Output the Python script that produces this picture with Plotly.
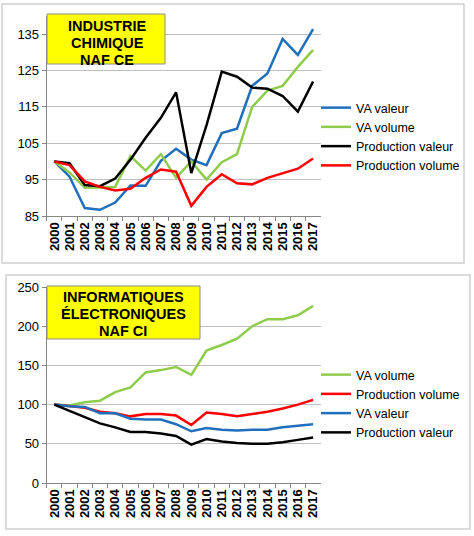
import plotly.graph_objects as go

years = [str(y) for y in range(2000, 2018)]

# Top chart: Industrie chimique (NAF CE)
chim_va_valeur = [100, 95.8, 87.2, 86.7, 88.7, 93.4, 93.3, 100.2, 103.5, 100.5, 99.0, 107.8, 109.0, 120.8, 124.2, 133.7, 129.3, 136.4]
chim_va_volume = [100, 97.0, 92.8, 93.0, 93.0, 101.5, 97.5, 102.0, 95.5, 100.0, 95.0, 99.8, 102.0, 115.0, 119.5, 120.8, 126.0, 130.7]
chim_prod_valeur = [100, 99.5, 93.5, 93.2, 95.3, 100.5, 106.5, 112.0, 119.0, 96.8, 110.0, 124.7, 123.3, 120.3, 120.0, 118.0, 113.7, 122.0]
chim_prod_volume = [100, 99.0, 94.5, 93.0, 92.0, 92.5, 95.5, 97.8, 97.2, 87.8, 93.0, 96.5, 94.0, 93.7, 95.5, 96.7, 98.0, 100.8]

# Bottom chart: Informatiques électroniques (NAF CI)
info_va_volume = [100, 99, 103, 105, 116, 122, 141, 144, 148, 138, 169, 176, 184, 200, 209, 209, 214, 226]
info_prod_volume = [100, 98, 96, 91, 89, 85, 88, 88, 86, 74, 90, 88, 85, 88, 91, 95, 100, 106]
info_va_valeur = [100, 98, 97, 89, 89, 82, 81, 81, 75, 66, 70, 68, 67, 68, 68, 71, 73, 75]
info_prod_valeur = [100, 92, 84, 76, 71, 65, 65, 63, 60, 49, 56, 53, 51, 50, 50, 52, 55, 58]

top_ticks = [85, 95, 105, 115, 125, 135]
bottom_ticks = [0, 50, 100, 150, 200, 250]

top_title = ["INDUSTRIE", "CHIMIQUE", "NAF CE"]
bottom_title = ["INFORMATIQUES", "ÉLECTRONIQUES", "NAF CI"]

BLUE = "#1f6fbd"
GREEN = "#8fcc4c"
BLACK = "#000000"
RED = "#ff0000"

W, H = 474, 536
FONT = "Liberation Sans, Arial, sans-serif"

def px(x):
    return x / W

def py(y):
    return 1 - y / H

fig = go.Figure()

top_series = [
    ("VA valeur", chim_va_valeur, BLUE),
    ("VA volume", chim_va_volume, GREEN),
    ("Production valeur", chim_prod_valeur, BLACK),
    ("Production volume", chim_prod_volume, RED),
]
for name, vals, col in top_series:
    fig.add_trace(go.Scatter(x=years, y=vals, name=name, mode="lines",
                             line=dict(color=col, width=2.5),
                             xaxis="x", yaxis="y", legend="legend"))

bottom_series = [
    ("VA volume", info_va_volume, GREEN),
    ("Production volume", info_prod_volume, RED),
    ("VA valeur", info_va_valeur, BLUE),
    ("Production valeur", info_prod_valeur, BLACK),
]
for name, vals, col in bottom_series:
    fig.add_trace(go.Scatter(x=years, y=vals, name=name, mode="lines",
                             line=dict(color=col, width=2.5),
                             xaxis="x2", yaxis="y2", legend="legend2"))

xaxis_common = dict(
    type="category", categoryorder="array", categoryarray=years,
    tickmode="array", tickvals=years, ticktext=years,
    range=[-0.5, 17.5], tickangle=270, tickson="boundaries",
    ticks="outside", ticklen=4, tickcolor="#868686",
    showline=True, linecolor="#868686", linewidth=1,
    showgrid=False, zeroline=False, automargin=False,
    tickfont=dict(family=FONT, size=13, color="#000000", weight="bold"),
)
yaxis_common = dict(
    ticks="outside", ticklen=4, tickcolor="#868686",
    showline=True, linecolor="#868686", linewidth=1,
    showgrid=True, gridcolor="#bfbfbf", gridwidth=1,
    zeroline=False, automargin=False,
    tickfont=dict(family=FONT, size=13, color="#000000"),
)

legend_common = dict(
    font=dict(family=FONT, size=12.5, color="#000000"),
    bgcolor="rgba(0,0,0,0)", borderwidth=0,
    xanchor="left", yanchor="top", tracegroupgap=0,
    itemwidth=30,
)

fig.update_layout(
    width=W, height=H,
    margin=dict(l=0, r=0, t=0, b=0),
    paper_bgcolor="white", plot_bgcolor="white",
    font=dict(family=FONT, size=13, color="#000000"),
    xaxis=dict(domain=[px(46.7), px(320.7)], anchor="y", **xaxis_common),
    yaxis=dict(domain=[py(216), py(16)], anchor="x", range=[85, 140],
               tickvals=top_ticks, **yaxis_common),
    xaxis2=dict(domain=[px(46.7), px(320.7)], anchor="y2", **xaxis_common),
    yaxis2=dict(domain=[py(483), py(287)], anchor="x2", range=[0, 250],
                tickvals=bottom_ticks, **yaxis_common),
    legend=dict(x=px(316), y=py(93), **legend_common),
    legend2=dict(x=px(316), y=py(360), **legend_common),
    showlegend=True,
)

shapes = [
    # outer chart borders
    dict(type="rect", xref="paper", yref="paper", x0=px(2), x1=px(464), y0=py(263), y1=py(4),
         line=dict(color="#d0d0d0", width=1.5), fillcolor="rgba(0,0,0,0)", layer="below"),
    dict(type="rect", xref="paper", yref="paper", x0=px(6), x1=px(470), y0=py(529), y1=py(275),
         line=dict(color="#d0d0d0", width=1.5), fillcolor="rgba(0,0,0,0)", layer="below"),
    # title boxes
    dict(type="rect", xref="paper", yref="paper", x0=px(47), x1=px(165), y0=py(64), y1=py(14),
         line=dict(color="#8c8c8c", width=1), fillcolor="#ffff00", layer="above"),
    dict(type="rect", xref="paper", yref="paper", x0=px(47), x1=px(200), y0=py(339), y1=py(286),
         line=dict(color="#8c8c8c", width=1), fillcolor="#ffff00", layer="above"),
]
fig.update_layout(shapes=shapes)

for i, line in enumerate(top_title):
    fig.add_annotation(xref="paper", yref="paper", x=px(107), y=py(26 + 17 * i),
                       text=line, showarrow=False,
                       font=dict(family=FONT, size=14.5, color="#000000", weight="bold"),
                       xanchor="center", yanchor="middle")
for i, line in enumerate(bottom_title):
    fig.add_annotation(xref="paper", yref="paper", x=px(123.5), y=py(297 + 17 * i),
                       text=line, showarrow=False,
                       font=dict(family=FONT, size=14.5, color="#000000", weight="bold"),
                       xanchor="center", yanchor="middle")

fig.write_html("out.html")
